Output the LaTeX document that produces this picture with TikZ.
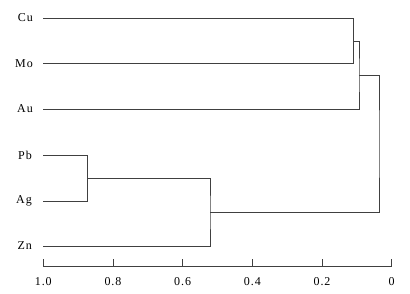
\documentclass[tikz,border=0pt]{standalone}
\usepackage{fontspec}
\setmainfont{Liberation Serif}[LetterSpace=8]
\begin{document}
\begin{tikzpicture}[x=1pt,y=-1pt,
  lbl/.style={anchor=east,inner sep=0pt,font=\fontsize{12}{14}\selectfont},
  tick/.style={anchor=center,inner sep=0pt,font=\fontsize{12}{14}\selectfont},
  dendro/.style={draw=black!75,line width=0.9pt},
  axisline/.style={draw=black!75,line width=0.9pt}]
\useasboundingbox (0,0) rectangle (410,293);
% leaf labels
\node[lbl] (Cu) at (33,18) {Cu};
\node[lbl] (Mo) at (33,63.5) {Mo};
\node[lbl] (Au) at (33,109) {Au};
\node[lbl] (Pb) at (32,155) {Pb};
\node[lbl] (Ag) at (32,201) {Ag};
\node[lbl] (Zn) at (32,246) {Zn};
% leaf start points
\coordinate (cu0) at (43,18);
\coordinate (mo0) at (43,63.5);
\coordinate (au0) at (43,109);
\coordinate (pb0) at (43,155);
\coordinate (ag0) at (43,201);
\coordinate (zn0) at (43,246);
% merge points
\coordinate (m1) at (353.5,41);
\coordinate (m2) at (359,75);
\coordinate (m3) at (87.5,178);
\coordinate (m4) at (210,212.5);
\coordinate (m5) at (379,144);
% dendrogram
\draw[dendro] (cu0) -| (m1) |- (mo0);
\draw[dendro] (m1) -| (m2) |- (au0);
\draw[dendro] (pb0) -| (m3) |- (ag0);
\draw[dendro] (m3) -| (m4) |- (zn0);
\draw[dendro] (m2) -| (m5) |- (m4);
% axis
\coordinate (a0) at (43.3,266.5);
\coordinate (a5) at (391.7,266.5);
\draw[axisline] (a0) -- (a5);
\foreach \v/\t [count=\i from 0] in {1.0/1.0,0.8/0.8,0.6/0.6,0.4/0.4,0.2/0.2,0/0} {
  \coordinate (t\i) at ({391.7-\v*348.4},266.5);
  \draw[axisline] (t\i) -- ++(0,-7.5);
  \node[tick] (tl\i) at ({391.7-\v*348.4},281.5) {\t};
}
\end{tikzpicture}
\end{document}
